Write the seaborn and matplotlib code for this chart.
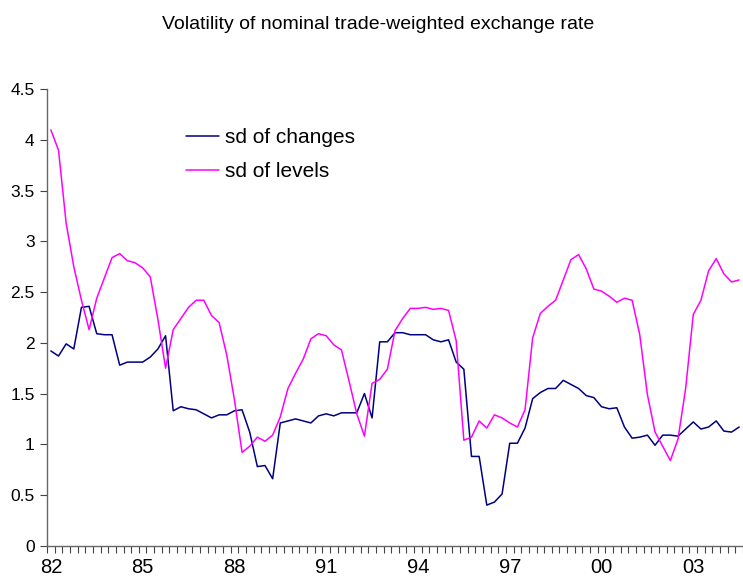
import numpy as np
import pandas as pd
import matplotlib
matplotlib.use("Agg")
import matplotlib.pyplot as plt
import seaborn as sns

# quarterly data, 1982Q1 onwards
sd_changes = [
    1.92, 1.87, 1.99, 1.94, 2.35, 2.36, 2.09, 2.08, 2.08, 1.78,
    1.81, 1.81, 1.81, 1.86, 1.94, 2.07, 1.33, 1.37, 1.35, 1.34,
    1.30, 1.26, 1.29, 1.29, 1.33, 1.34, 1.12, 0.78, 0.79, 0.66,
    1.21, 1.23, 1.25, 1.23, 1.21, 1.28, 1.30, 1.28, 1.31, 1.31,
    1.31, 1.50, 1.26, 2.01, 2.01, 2.10, 2.10, 2.08, 2.08, 2.08,
    2.03, 2.01, 2.03, 1.81, 1.74, 0.88, 0.88, 0.40, 0.43, 0.51,
    1.01, 1.01, 1.16, 1.45, 1.51, 1.55, 1.55, 1.63, 1.59, 1.55,
    1.48, 1.46, 1.37, 1.35, 1.36, 1.17, 1.06, 1.07, 1.09, 0.99,
    1.09, 1.09, 1.08, 1.15, 1.22, 1.15, 1.17, 1.23, 1.13, 1.12,
    1.17,
]
sd_levels = [
    4.10, 3.90, 3.18, 2.75, 2.42, 2.13, 2.44, 2.64, 2.84, 2.88,
    2.81, 2.79, 2.74, 2.65, 2.23, 1.75, 2.13, 2.24, 2.35, 2.42,
    2.42, 2.27, 2.20, 1.88, 1.44, 0.92, 0.98, 1.07, 1.03, 1.09,
    1.27, 1.55, 1.70, 1.84, 2.04, 2.09, 2.07, 1.98, 1.93, 1.62,
    1.30, 1.08, 1.60, 1.64, 1.74, 2.12, 2.24, 2.34, 2.34, 2.35,
    2.33, 2.34, 2.32, 2.02, 1.04, 1.07, 1.23, 1.16, 1.29, 1.26,
    1.21, 1.17, 1.34, 2.05, 2.29, 2.36, 2.42, 2.62, 2.82, 2.87,
    2.73, 2.53, 2.51, 2.46, 2.40, 2.44, 2.42, 2.08, 1.49, 1.12,
    0.98, 0.84, 1.05, 1.55, 2.28, 2.42, 2.71, 2.83, 2.68, 2.60,
    2.62,
]
year_labels = ["82", "85", "88", "91", "94", "97", "00", "03"]

n = len(sd_changes)
df = pd.DataFrame({
    "q": list(range(n)) * 2,
    "value": sd_changes + sd_levels,
    "series": ["sd of changes"] * n + ["sd of levels"] * n,
})

sns.set_theme(style="white")
plt.rcParams["font.family"] = ["Liberation Sans", "DejaVu Sans"]
plt.rcParams["text.color"] = "black"
plt.rcParams["xtick.color"] = "black"
plt.rcParams["ytick.color"] = "black"

fig = plt.figure(figsize=(7.43, 5.81), dpi=100)
ax = fig.add_axes([0.0633, 0.0608, 0.9367, 0.7855])

sns.lineplot(data=df, x="q", y="value", hue="series", sort=False,
             palette={"sd of changes": "#000080", "sd of levels": "#FF00FF"},
             linewidth=1.1, ax=ax)

ax.set_xlim(-0.5, 90.2)
ax.set_ylim(0, 4.5)
ax.set_yticks(np.arange(0, 4.51, 0.5))
ax.set_yticklabels(["0", "0.5", "1", "1.5", "2", "2.5", "3", "3.5", "4", "4.5"], fontsize=12.5)
ax.set_xticks(np.arange(0, n, 12))
ax.set_xticklabels(year_labels, fontsize=14.5)
ax.set_xticks(np.arange(-0.5, n, 1), minor=True)
ax.tick_params(axis="x", which="major", length=0, pad=9)
ax.tick_params(axis="x", which="minor", length=5, width=0.8, color="#444444", bottom=True, direction="out")
ax.tick_params(axis="y", length=5, width=0.8, color="#444444", left=True, direction="out", pad=4)
ax.set_xlabel("")
ax.set_ylabel("")

for s in ["top", "right"]:
    ax.spines[s].set_visible(False)
for s in ["left", "bottom"]:
    ax.spines[s].set_color("#666666")
    ax.spines[s].set_linewidth(1.0)

ax.legend(loc="upper left", bbox_to_anchor=(0.1997, 0.915), frameon=False,
          fontsize=15, handlelength=1.6, handletextpad=0.25, labelspacing=0.72,
          borderpad=0, borderaxespad=0)

fig.text(0.509, 0.958, "Volatility of nominal trade-weighted exchange rate",
         ha="center", va="center", fontsize=14)

fig.savefig("out.png", dpi=100)
